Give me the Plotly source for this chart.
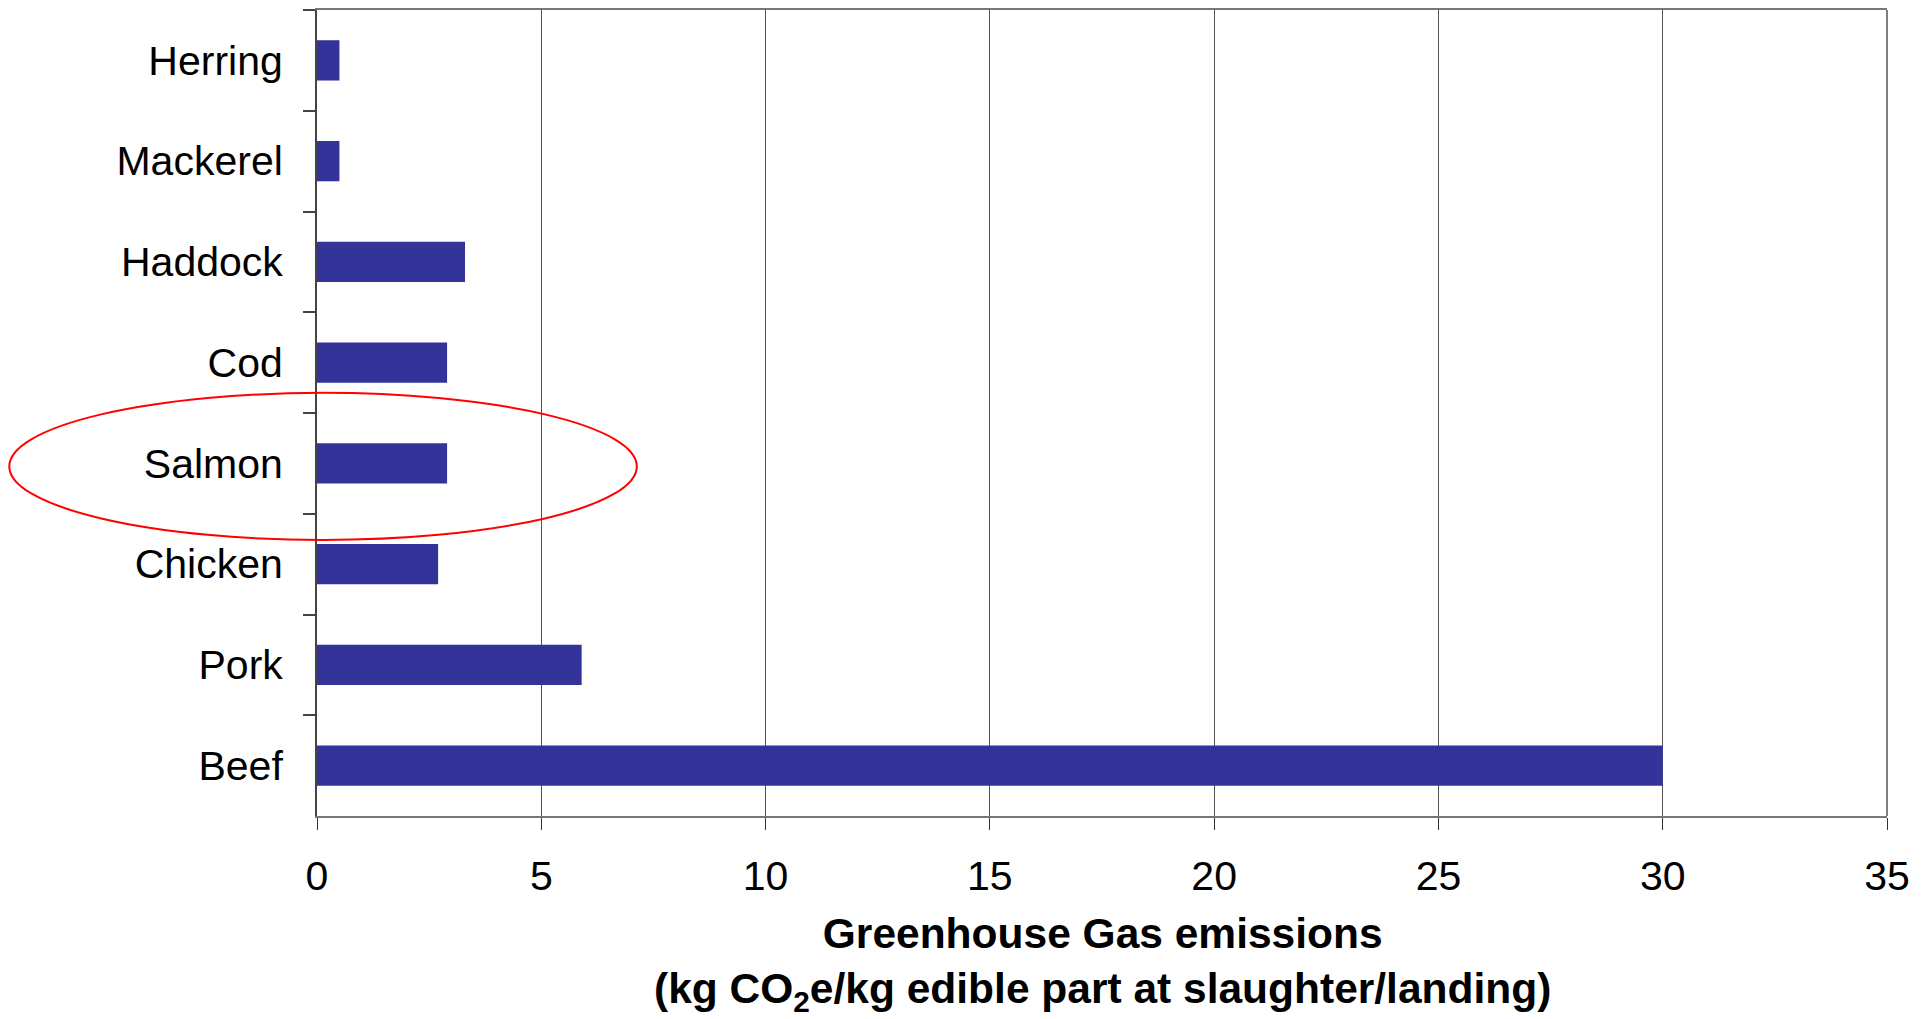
import plotly.graph_objects as go

# Greenhouse gas emissions per kg edible product, listed top to bottom
foods = ["Herring", "Mackerel", "Haddock", "Cod", "Salmon", "Chicken", "Pork", "Beef"]
emissions = [0.5, 0.5, 3.3, 2.9, 2.9, 2.7, 5.9, 30]

x_ticks = [0, 5, 10, 15, 20, 25, 30, 35]
x_max = 35

x_title = "<b>Greenhouse Gas emissions</b><br><b>(kg CO<sub>2</sub>e/kg edible part at slaughter/landing)</b>"

highlight = "Salmon"

FONT = "Liberation Sans, Arial, sans-serif"
BAR_COLOR = "#333399"

fig = go.Figure(
    go.Bar(
        x=emissions,
        y=foods,
        orientation="h",
        width=0.4,
        marker=dict(color=BAR_COLOR, line=dict(width=0)),
        hoverinfo="x+y",
    )
)

fig.update_layout(
    width=1929,
    height=1019,
    margin=dict(l=317, r=42, t=10, b=203),
    paper_bgcolor="white",
    plot_bgcolor="white",
    font=dict(family=FONT, size=41, color="black"),
    showlegend=False,
    bargap=0.6,
)

fig.update_xaxes(
    range=[0, x_max],
    tickvals=x_ticks,
    ticktext=[str(v) for v in x_ticks],
    showgrid=True,
    gridcolor="#555555",
    gridwidth=1,
    zeroline=False,
    showline=True,
    linecolor="#777777",
    linewidth=2,
    mirror=True,
    ticks="outside",
    ticklen=12,
    tickwidth=1,
    tickcolor="#333333",
    ticklabelstandoff=11,
    tickfont=dict(size=41, family=FONT),
    automargin=False,
)

fig.update_yaxes(
    autorange="reversed",
    showgrid=False,
    showline=True,
    linecolor="#444444",
    linewidth=2,
    ticks="outside",
    tickson="boundaries",
    ticklen=12,
    tickwidth=1.5,
    tickcolor="#444444",
    ticklabelstandoff=24,
    tickfont=dict(size=41, family=FONT),
    automargin=False,
)

# Two-line axis title centred under the plot area
fig.add_annotation(
    text=x_title,
    xref="paper", yref="paper",
    x=0.5, y=0,
    xanchor="center", yanchor="top",
    yshift=-92,
    showarrow=False,
    align="center",
    font=dict(size=42.5, family=FONT, color="black"),
)

# Right-hand frame edge in lighter grey
fig.add_shape(
    type="line", xref="paper", yref="paper",
    x0=1, x1=1, y0=0, y1=1,
    line=dict(color="#808080", width=2),
)

# Red ellipse around the highlighted row (extent given in data units)
n = len(foods)
idx = foods.index(highlight)
ell_x0, ell_x1 = -6.86, 7.13          # kg CO2e/kg
ell_up, ell_down = 0.70, 0.76         # fraction of a category band
y_center = 1 - (idx + 0.5) / n
fig.add_shape(
    type="circle", xref="paper", yref="paper",
    x0=ell_x0 / x_max, x1=ell_x1 / x_max,
    y0=y_center - ell_down / n, y1=y_center + ell_up / n,
    line=dict(color="#ff0000", width=2),
    fillcolor="rgba(0,0,0,0)",
    layer="above",
)

fig.write_html("out.html")
